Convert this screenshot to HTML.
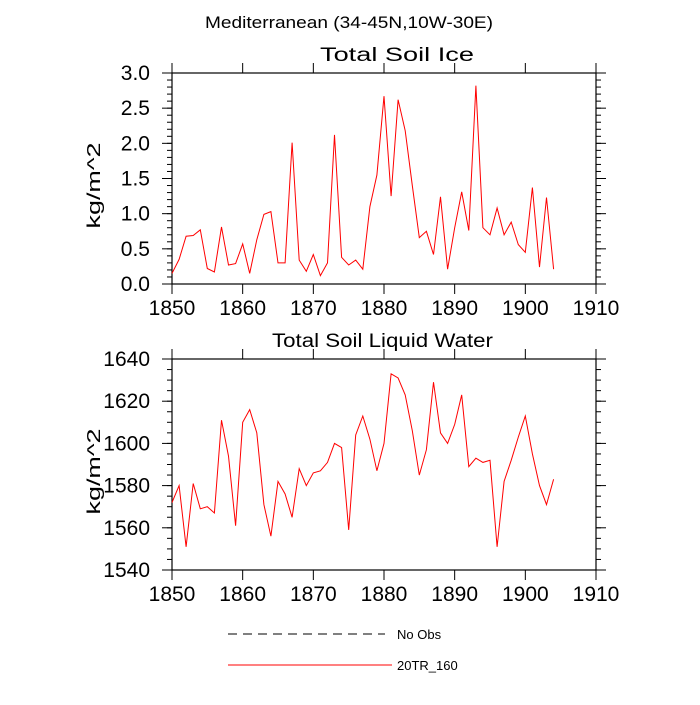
<!DOCTYPE html>
<html><head><meta charset="utf-8"><style>body{margin:0;background:#fff}svg text{font-family:"Liberation Sans",sans-serif}</style></head>
<body>
<svg id="c" width="700" height="700" xmlns="http://www.w3.org/2000/svg">
<text x="205" y="28" font-size="17" textLength="288" lengthAdjust="spacingAndGlyphs">Mediterranean (34-45N,10W-30E)</text>
<g id="legend">
<line x1="228" y1="634" x2="385" y2="634" stroke="#000" stroke-dasharray="9,6"/>
<text x="397" y="639" font-size="13">No Obs</text>
<line x1="228" y1="665" x2="392" y2="665" stroke="red"/>
<text x="397" y="670" font-size="13">20TR_160</text>
</g>
</svg>
<script>
const years=[];for(let y=1850;y<=1904;y++)years.push(y);
const iceValues=[0.15,0.35,0.68,0.69,0.77,0.22,0.17,0.81,0.27,0.29,0.57,0.15,0.63,0.99,1.03,0.30,0.30,2.01,0.34,0.18,0.42,0.12,0.30,2.12,0.38,0.27,0.34,0.21,1.10,1.55,2.67,1.25,2.62,2.18,1.40,0.66,0.75,0.42,1.24,0.21,0.80,1.31,0.76,2.82,0.80,0.70,1.08,0.70,0.88,0.56,0.45,1.37,0.24,1.23,0.21];
const liquidValues=[1572,1580,1551,1581,1569,1570,1567,1611,1594,1561,1610,1616,1605,1571,1556,1582,1576,1565,1588,1580,1586,1587,1591,1600,1598,1559,1604,1613,1602,1587,1600,1633,1631,1623,1606,1585,1597,1629,1605,1600,1609,1623,1589,1593,1591,1592,1551,1582,1592,1603,1613,1595,1580,1571,1583];
const xTicks=[1850,1860,1870,1880,1890,1900,1910];
const iceTicks=[0,0.5,1,1.5,2,2.5,3];
const liquidTicks=[1540,1560,1580,1600,1620,1640];
const NS="http://www.w3.org/2000/svg",svg=document.getElementById('c');
function mk(t,a,p){const e=document.createElementNS(NS,t);for(const k in a)e.setAttribute(k,a[k]);(p||svg).appendChild(e);return e;}
function panel(name,title,tx0,tlen,top,bottom,ymin,ymax,yTicks,minorStep,vals,ylabel,ydec){
  const L=172,R=596;
  const g=mk('g',{});
  
  
  const xs=v=>L+(v-1850)/60*(R-L), ys=v=>bottom-(v-ymin)/(ymax-ymin)*(bottom-top);
  const t=mk('text',{x:tx0,y:top-12,'font-size':19,textLength:tlen,lengthAdjust:'spacingAndGlyphs'},g);t.textContent=title;
  
  
  for(let v=ymin;v<=ymax+1e-9;v+=minorStep){const y=ys(v);
    mk('line',{x1:L-5,x2:L,y1:y,y2:y,stroke:'#000'},g);mk('line',{x1:R,x2:R+5,y1:y,y2:y,stroke:'#000'},g);}
  yTicks.forEach(v=>{const y=ys(v);
    mk('line',{x1:L-10,x2:L,y1:y,y2:y,stroke:'#000'},g);mk('line',{x1:R,x2:R+10,y1:y,y2:y,stroke:'#000'},g);
    const tx=mk('text',{x:L-22,y:y+7,'font-size':21,'text-anchor':'end'},g);tx.textContent=v.toFixed(ydec);
    
    });
  xTicks.forEach(v=>{const x=xs(v);
    mk('line',{x1:x,x2:x,y1:bottom,y2:bottom+10,stroke:'#000'},g);mk('line',{x1:x,x2:x,y1:top-10,y2:top,stroke:'#000'},g);
    const tx=mk('text',{x:x,y:bottom+31,'font-size':21,'text-anchor':'middle'},g);tx.textContent=v;
    
    });
  const fr=mk('rect',{x:L,y:top,width:R-L,height:bottom-top,fill:'none',stroke:'#000','stroke-width':1.2},g);
  
  
  const yl=mk('text',{x:0,y:0,'font-size':18,'text-anchor':'middle',textLength:86,lengthAdjust:'spacingAndGlyphs',transform:`translate(${L-72},${(top+bottom)/2+7}) rotate(-90)`},g);yl.textContent=ylabel;
  
  
  const pl=mk('polyline',{points:vals.map((v,i)=>xs(years[i]).toFixed(1)+','+ys(v).toFixed(1)).join(' '),fill:'none',stroke:'red','stroke-width':1},g);
  
  
}
panel('soil-ice-panel','Total Soil Ice',320,154,73,284,0,3,iceTicks,0.1,iceValues,'kg/m^2',1);
panel('soil-liquid-panel','Total Soil Liquid Water',272,221,359,570,1540,1640,liquidTicks,5,liquidValues,'kg/m^2',0);
</script>
</body></html>
